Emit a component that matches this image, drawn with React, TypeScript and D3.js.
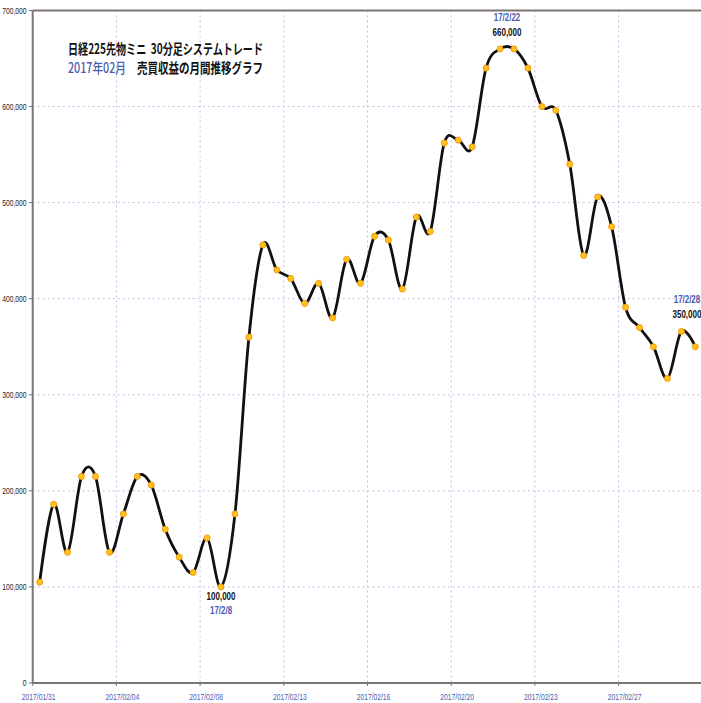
import React from "react";
import * as d3 from "d3";

const values: number[] = [
  105000, 186000, 136000, 215000, 215000, 136000, 176000, 215000, 206000, 160000,
  131000, 115000, 151000, 100000, 176000, 360000, 456000, 430000, 421000, 395000,
  416000, 380000, 441000, 416000, 465000, 461000, 410000, 485000, 470000, 562000,
  565000, 558000, 640000, 660000, 660000, 640000, 600000, 596000, 540000, 445000,
  506000, 475000, 391000, 370000, 350000, 317000, 366000, 350000,
];
const xTickLabels: string[] = [
  "2017/01/31", "2017/02/04", "2017/02/08", "2017/02/13",
  "2017/02/16", "2017/02/20", "2017/02/23", "2017/02/27",
];
const yTicks: number[] = [0, 100000, 200000, 300000, 400000, 500000, 600000, 700000];
const titleLine1 = "日経225先物ミニ\u00a0\u00a030分足システムトレード";
const titleMonth = "2017年02月";
const titleLine2 = "売買収益の月間推移グラフ";
const annotations = [
  { idx: 13, value: "100,000", date: "17/2/8", below: true },
  { idx: 33.5, value: "660,000", date: "17/2/22", below: false, vi: 33 },
  { idx: 46.4, value: "350,000", date: "17/2/28", below: false, vi: 46 },
];

const W = 701, H = 703;
const left = 32.7, top = 10.5, bottom = 683;
const step = 13.95;
const BLUE = "#4b5bb0";
const GRID = "#c9b8ea";
const AXIS = "#7d7570";

function CText(props: { x: number; y: number; sx: number; size: number; anchor?: string; fill?: string; weight?: number | string; children: React.ReactNode }) {
  const { x, y, sx, size, anchor = "start", fill = "#111", weight = "normal", children } = props;
  return (
    <text transform={`translate(${x},${y}) scale(${sx},1)`} fontSize={size} textAnchor={anchor} fill={fill} fontWeight={weight} fontFamily="'Liberation Sans', Arial, sans-serif">
      {children}
    </text>
  );
}

export default function App() {
  const x = d3.scaleLinear().domain([-0.5, values.length - 0.5]).range([left, left + values.length * step]);
  const y = d3.scaleLinear().domain([0, 700000]).range([bottom, top]);
  const line = d3
    .line<number>()
    .x((_, i) => x(i))
    .y((d) => y(d))
    .curve(d3.curveCardinal.tension(0));
  const tickIdx = xTickLabels.map((_, k) => -0.5 + 6 * k);
  const fmt = d3.format(",");

  return (
    <svg width={W} height={H} style={{ position: "absolute", left: 0, top: 0, background: "#fff" }}>
      <rect width={W} height={H} fill="#fff" />
      {yTicks.filter((v) => v > 0 && v < 700000).map((v) => (
        <line key={"gy" + v} x1={left} x2={W} y1={y(v)} y2={y(v)} stroke={GRID} strokeWidth={1} strokeDasharray="2,3" />
      ))}
      {tickIdx.slice(1).map((t) => (
        <line key={"gx" + t} x1={x(t)} x2={x(t)} y1={top} y2={bottom} stroke={GRID} strokeWidth={1} strokeDasharray="2,3" />
      ))}
      <line x1={left} x2={W} y1={top} y2={top} stroke={AXIS} strokeWidth={2} />
      <line x1={left} x2={left} y1={top} y2={bottom} stroke={AXIS} strokeWidth={2} />
      <line x1={left - 1} x2={W} y1={bottom} y2={bottom} stroke={AXIS} strokeWidth={2} />
      {yTicks.map((v) => (
        <g key={"yt" + v}>
          <line x1={left - 4} x2={left} y1={y(v)} y2={y(v)} stroke={AXIS} strokeWidth={1} />
          <CText x={26.5} y={y(v) + 3} sx={0.75} size={9} anchor="end" fill="#222">{fmt(v)}</CText>
        </g>
      ))}
      {tickIdx.map((t, k) => (
        <g key={"xt" + t}>
          <line x1={x(t)} x2={x(t)} y1={bottom} y2={bottom + 3} stroke={AXIS} strokeWidth={1} />
          <CText x={x(t) + 6} y={700} sx={0.75} size={9} anchor="middle" fill={BLUE}>{xTickLabels[k]}</CText>
        </g>
      ))}
      <text x={68} y={53.5} fontSize={14} fontWeight={600} fontFamily="'Noto Sans CJK JP', sans-serif" fill="#111" textLength={195} lengthAdjust="spacingAndGlyphs">{titleLine1}</text>
      <text x={68} y={72.5} fontSize={14} fontWeight={500} fontFamily="'Noto Sans CJK JP', sans-serif" fill={BLUE} textLength={58} lengthAdjust="spacingAndGlyphs">{titleMonth}</text>
      <text x={137} y={72.5} fontSize={14} fontWeight={600} fontFamily="'Noto Sans CJK JP', sans-serif" fill="#111" textLength={126} lengthAdjust="spacingAndGlyphs">{titleLine2}</text>
      <path d={line(values) || ""} fill="none" stroke="#111" strokeWidth={2.8} />
      {values.map((v, i) => (
        <circle key={"p" + i} cx={x(i)} cy={y(v)} r={3} fill="#ffc21a" stroke="#f39a12" strokeWidth={1} />
      ))}
      {annotations.map((a) => {
        const v = values[a.vi ?? a.idx];
        const cx = x(a.idx);
        const dv = a.below ? 13 : -13;
        const dd = a.below ? 27 : -28;
        return (
          <g key={a.date}>
            <CText x={cx} y={y(v) + dv} sx={0.73} size={11} anchor="middle" weight={600}>{a.value}</CText>
            <CText x={cx} y={y(v) + dd} sx={0.72} size={11} anchor="middle" fill={BLUE} weight={600}>{a.date}</CText>
          </g>
        );
      })}
    </svg>
  );
}
